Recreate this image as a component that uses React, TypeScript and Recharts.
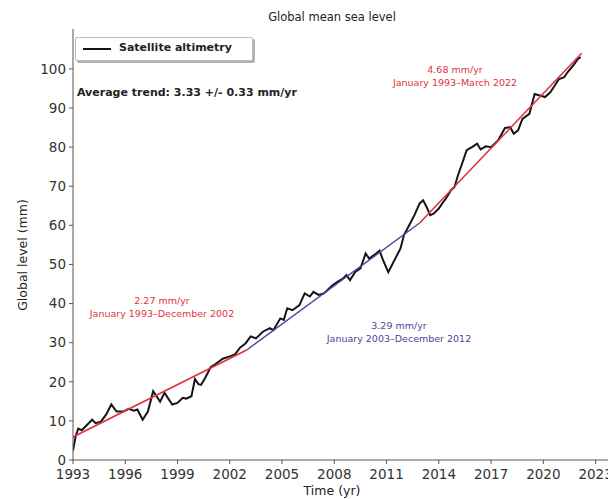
import { LineChart, Line, XAxis, YAxis } from 'recharts';

// Satellite altimetry, global mean sea level (mm)
const slaYears = [
  1993.0, 1993.15, 1993.3, 1993.5, 1993.7, 1994.1, 1994.3, 1994.6, 1994.9, 1995.2,
  1995.5, 1995.9, 1996.2, 1996.5, 1996.7, 1997.0, 1997.3, 1997.6, 1997.8, 1998.0,
  1998.25, 1998.5, 1998.7, 1999.0, 1999.3, 1999.5, 1999.8, 2000.0, 2000.2, 2000.35,
  2000.6, 2000.9, 2001.2, 2001.6, 2002.0, 2002.3, 2002.6, 2002.9, 2003.2, 2003.5,
  2003.9, 2004.3, 2004.5, 2004.9, 2005.1, 2005.3, 2005.6, 2006.0, 2006.3, 2006.6,
  2006.8, 2007.1, 2007.4, 2007.6, 2007.9, 2008.2, 2008.5, 2008.7, 2008.9, 2009.2,
  2009.5, 2009.8, 2010.0, 2010.4, 2010.6, 2010.8, 2011.1, 2011.5, 2011.8, 2012.0,
  2012.3, 2012.6, 2012.9, 2013.1, 2013.3, 2013.5, 2013.7, 2014.0, 2014.2, 2014.4,
  2014.7, 2014.9, 2015.1, 2015.3, 2015.6, 2015.9, 2016.2, 2016.4, 2016.7, 2017.0,
  2017.4, 2017.8, 2018.1, 2018.3, 2018.55, 2018.8, 2019.2, 2019.5, 2019.8, 2020.1,
  2020.4, 2020.65, 2020.9, 2021.2, 2021.4, 2021.7, 2022.0, 2022.15,
];
const slaValues = [
  2.4, 6.0, 8.0, 7.6, 8.5, 10.3, 9.4, 9.8, 11.6, 14.2,
  12.4, 12.4, 13.1, 12.6, 12.9, 10.3, 12.4, 17.6, 16.3, 14.9,
  17.2, 15.5, 14.2, 14.6, 15.9, 15.7, 16.3, 20.7, 19.4, 19.2,
  21.1, 23.7, 24.6, 25.9, 26.5, 27.0, 28.8, 29.8, 31.6, 31.1,
  32.8, 33.7, 33.2, 36.2, 35.8, 38.8, 38.3, 39.6, 42.6, 41.8,
  43.0, 42.2, 42.6, 43.4, 44.7, 45.6, 46.4, 47.3, 46.0, 48.1,
  49.0, 52.8, 51.5, 52.8, 53.5, 51.1, 48.0, 51.5, 54.1, 57.5,
  60.0, 62.6, 65.6, 66.4, 64.7, 62.6, 63.0, 64.3, 65.6, 66.8,
  69.0, 69.8, 72.8, 75.3, 79.2, 80.0, 80.9, 79.4, 80.2, 80.0,
  81.7, 84.9, 85.1, 83.4, 84.3, 87.2, 88.5, 93.6, 93.2, 92.8,
  94.0, 95.7, 97.4, 97.9, 99.2, 100.8, 102.6, 103.0,
];

// trend segments (start / end)
const trend1Years = [1993.0, 2003.0];
const trend1Values = [5.9, 28.2];
const trend2Years = [2003.0, 2012.9];
const trend2Values = [28.2, 60.6];
const trend3Years = [2012.9, 2022.2];
const trend3Values = [60.6, 104.0];

const xTicks = [1993, 1996, 1999, 2002, 2005, 2008, 2011, 2014, 2017, 2020, 2023];
const yTicks = [0, 10, 20, 30, 40, 50, 60, 70, 80, 90, 100];

const toRows = (xs: number[], ys: number[]) => xs.map((year, i) => ({ year, value: ys[i] }));

const slaData = toRows(slaYears, slaValues);
const trend1 = toRows(trend1Years, trend1Values);
const trend2 = toRows(trend2Years, trend2Values);
const trend3 = toRows(trend3Years, trend3Values);

const RED = '#e0323e';
const BLUE = '#46479c';
const FONT = '"DejaVu Sans", sans-serif';

const note = (left: number, top: number, color: string, lines: string[]) => (
  <div
    style={{
      position: 'absolute',
      left,
      top,
      transform: 'translate(-50%, -50%)',
      color,
      fontSize: 9.5,
      lineHeight: '13px',
      textAlign: 'center',
      whiteSpace: 'nowrap',
    }}
  >
    {lines.map((l) => (
      <div key={l}>{l}</div>
    ))}
  </div>
);

export default function App() {
  return (
    <div
      style={{
        position: 'absolute',
        left: 0,
        top: 0,
        width: 608,
        height: 499,
        overflow: 'hidden',
        background: '#fff',
        fontFamily: FONT,
      }}
    >
      <LineChart width={640} height={499} margin={{ top: 29, right: 27, left: 0, bottom: 0 }}>
        <XAxis
          dataKey="year"
          type="number"
          domain={[1993, 2024]}
          ticks={xTicks}
          height={39}
          tickSize={4}
          tickMargin={5}
          allowDataOverflow
          stroke="#555"
          tick={{ fill: '#333', fontSize: 13.5, fontFamily: FONT }}
        />
        <XAxis
          xAxisId="top"
          orientation="top"
          type="number"
          domain={[1993, 2024]}
          height={0}
          tick={false}
          tickLine={false}
          stroke="#555"
        />
        <YAxis
          type="number"
          domain={[0, 110.2]}
          ticks={yTicks}
          width={73}
          tickSize={4}
          tickMargin={3}
          allowDataOverflow
          stroke="#555"
          tick={{ fill: '#333', fontSize: 13.5, fontFamily: FONT }}
        />
        <Line
          data={slaData}
          dataKey="value"
          stroke="#151515"
          strokeWidth={2}
          dot={false}
          isAnimationActive={false}
        />
        <Line data={trend1} dataKey="value" stroke={RED} strokeWidth={1.6} dot={false} isAnimationActive={false} />
        <Line data={trend2} dataKey="value" stroke={BLUE} strokeWidth={1.4} dot={false} isAnimationActive={false} />
        <Line data={trend3} dataKey="value" stroke={RED} strokeWidth={1.6} dot={false} isAnimationActive={false} />
      </LineChart>

      <div
        style={{
          position: 'absolute',
          left: 332,
          top: 17,
          transform: 'translate(-50%, -50%)',
          fontSize: 11.5,
          color: '#222',
          whiteSpace: 'nowrap',
        }}
      >
        Global mean sea level
      </div>

      <div
        style={{
          position: 'absolute',
          left: 22,
          top: 255,
          transform: 'translate(-50%, -50%) rotate(-90deg)',
          fontSize: 12.5,
          color: '#222',
          whiteSpace: 'nowrap',
        }}
      >
        Global level (mm)
      </div>

      <div
        style={{
          position: 'absolute',
          left: 332,
          top: 490,
          transform: 'translate(-50%, -50%)',
          fontSize: 12.5,
          color: '#222',
          whiteSpace: 'nowrap',
        }}
      >
        Time (yr)
      </div>

      {/* legend */}
      <div
        style={{
          position: 'absolute',
          left: 75,
          top: 37,
          width: 176,
          height: 22,
          border: '1px solid #bbb',
          borderRadius: 2,
          background: '#fff',
          boxShadow: '2px 2px 0 rgba(0,0,0,0.3)',
        }}
      >
        <div style={{ position: 'absolute', left: 7, top: 10, width: 28, height: 2, background: '#151515' }} />
        <div
          style={{
            position: 'absolute',
            left: 43,
            top: 3,
            fontSize: 11,
            fontWeight: 'bold',
            color: '#222',
            whiteSpace: 'nowrap',
          }}
        >
          Satellite altimetry
        </div>
      </div>

      <div
        style={{
          position: 'absolute',
          left: 77,
          top: 92,
          transform: 'translateY(-50%)',
          fontSize: 11,
          fontWeight: 'bold',
          color: '#222',
          whiteSpace: 'nowrap',
        }}
      >
        Average trend: 3.33 +/- 0.33 mm/yr
      </div>

      {note(455, 76, RED, ['4.68 mm/yr', 'January 1993–March 2022'])}
      {note(162, 307, RED, ['2.27 mm/yr', 'January 1993–December 2002'])}
      {note(399, 332, BLUE, ['3.29 mm/yr', 'January 2003–December 2012'])}
    </div>
  );
}
